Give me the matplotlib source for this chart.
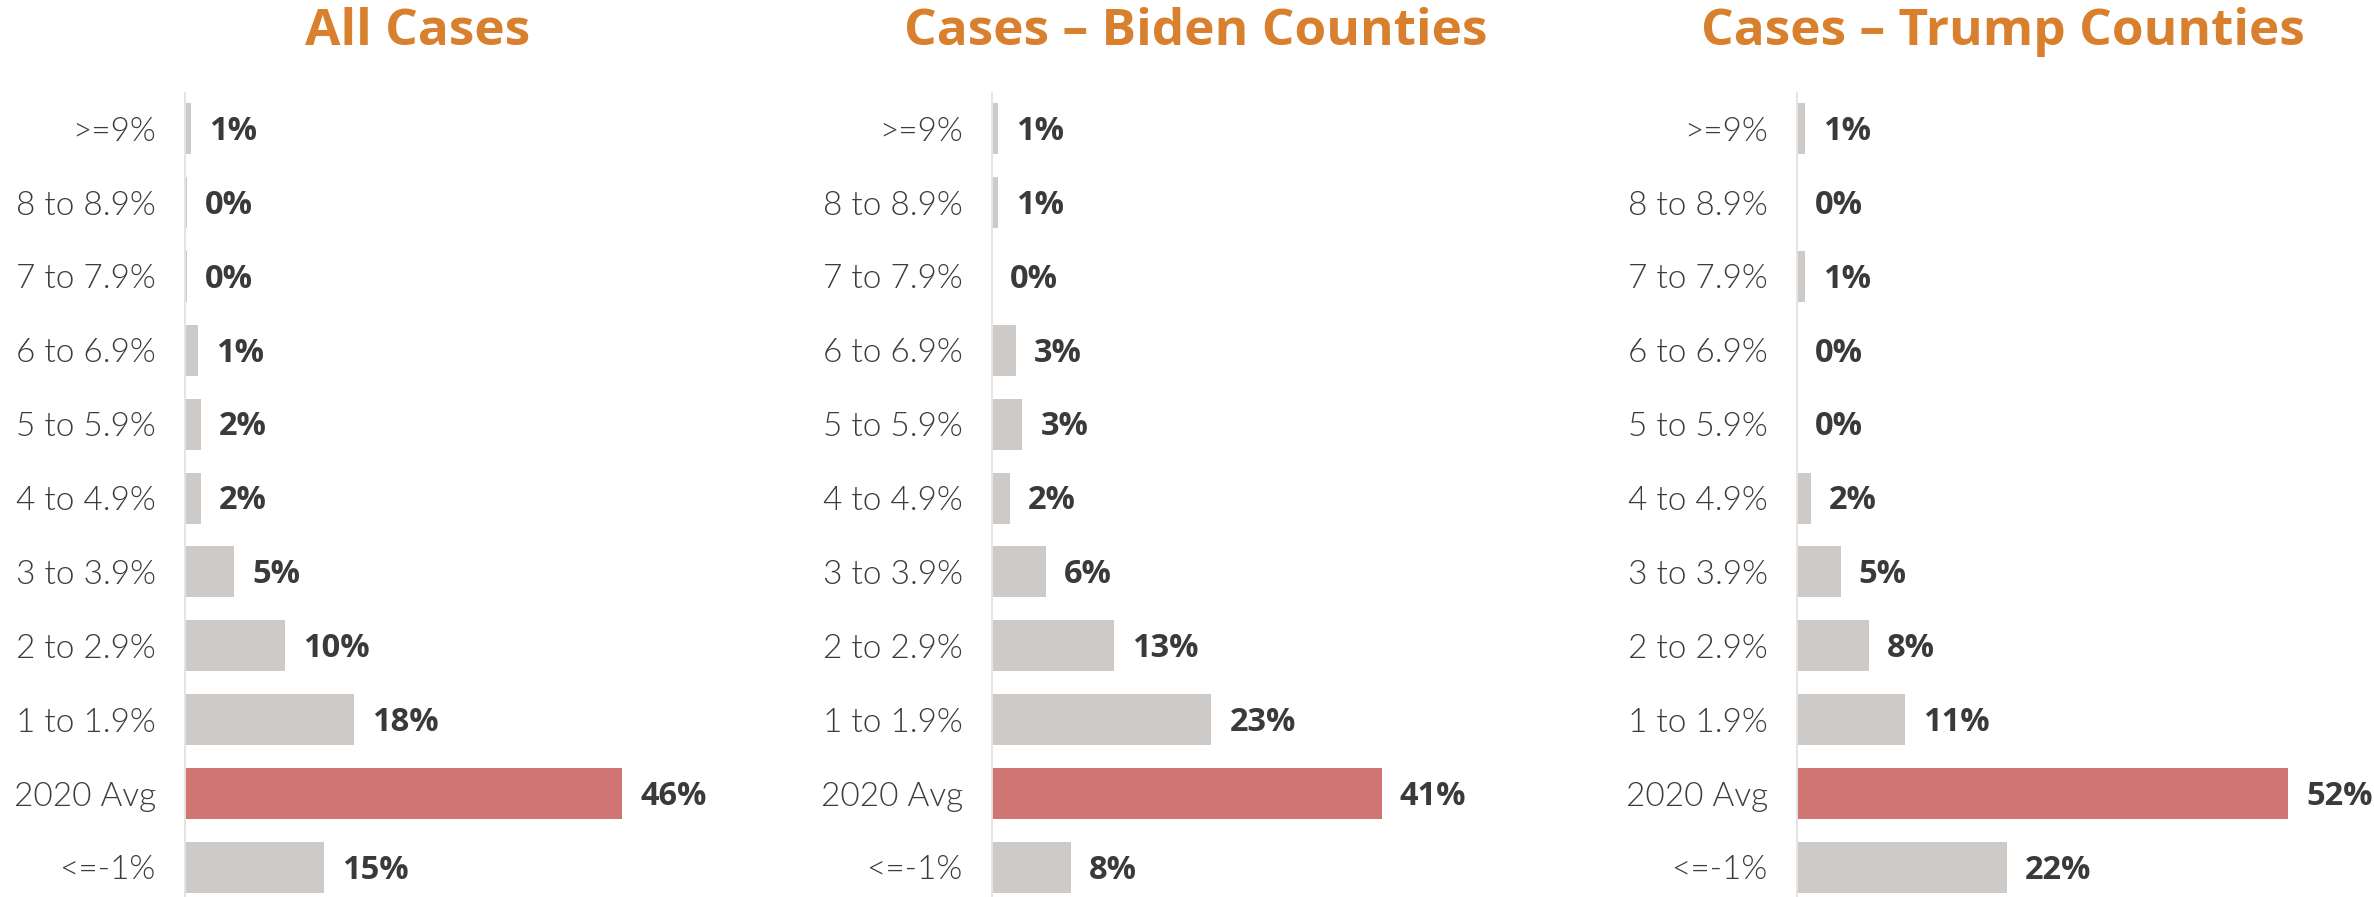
import matplotlib
matplotlib.use("Agg")
import matplotlib.pyplot as plt

categories = [">=9%", "8 to 8.9%", "7 to 7.9%", "6 to 6.9%", "5 to 5.9%",
              "4 to 4.9%", "3 to 3.9%", "2 to 2.9%", "1 to 1.9%", "2020 Avg", "<=-1%"]

titles = ["All Cases", "Cases \u2013 Biden Counties", "Cases \u2013 Trump Counties"]

all_values   = [0.65, 0.2, 0.2, 1.35, 1.7, 1.7, 5.2, 10.5, 17.8, 46.0, 14.6]
biden_values = [0.6, 0.6, 0.0, 2.5, 3.2, 1.9, 5.7, 12.8, 23.1, 41.0, 8.3]
trump_values = [0.8, 0.0, 0.8, 0.0, 0.0, 1.5, 4.6, 7.6, 11.4, 51.7, 22.1]

all_labels   = ["1%", "0%", "0%", "1%", "2%", "2%", "5%", "10%", "18%", "46%", "15%"]
biden_labels = ["1%", "1%", "0%", "3%", "3%", "2%", "6%", "13%", "23%", "41%", "8%"]
trump_labels = ["1%", "0%", "1%", "0%", "0%", "2%", "5%", "8%", "11%", "52%", "22%"]

series = [all_values, biden_values, trump_values]
labels = [all_labels, biden_labels, trump_labels]

GRAY = "#CDCAC7"
RED = "#CF7674"
ORANGE = "#D8802E"
TEXT = "#3A3A3A"

W, H = 2374, 897
fig = plt.figure(figsize=(W / 100, H / 100), dpi=100)
fig.patch.set_facecolor("white")

axis_x = [185, 992, 1797]
title_cx = [418, 1196, 2003]
ax_w = 570 / W
ax_top = 1 - 93 / H

for i in range(3):
    ax = fig.add_axes([axis_x[i] / W, 0.0, ax_w, ax_top])
    vals = series[i]
    colors = [RED if c == "2020 Avg" else GRAY for c in categories]
    ypos = list(range(len(categories)))
    ax.barh(ypos, vals, height=0.69, color=colors, zorder=2)
    ax.set_xlim(0, 60)
    ax.set_ylim(10.4, -0.483)
    ax.set_yticks(ypos)
    ax.set_yticklabels(categories, fontfamily="Lato", fontweight=300,
                       fontsize=24, color="#3C3C3C")
    ax.tick_params(axis="y", length=0, pad=21)
    ax.set_xticks([])
    for s in ["top", "right", "bottom"]:
        ax.spines[s].set_visible(False)
    ax.spines["left"].set_color("#E4E4E4")
    ax.spines["left"].set_linewidth(1.4)
    ax.set_facecolor("none")
    for y, v, lab in zip(ypos, vals, labels[i]):
        ax.annotate(lab, xy=(v, y), xytext=(13, -2), textcoords="offset points",
                    ha="left", va="center", fontfamily="Open Sans", fontweight="bold",
                    fontsize=23.5, color=TEXT)
    fig.text(title_cx[i] / W, 1 - 32 / H, titles[i], ha="center", va="center",
             fontfamily="Open Sans", fontweight="bold", fontsize=37, color=ORANGE)

fig.savefig("out.png", dpi=100, facecolor="white")
